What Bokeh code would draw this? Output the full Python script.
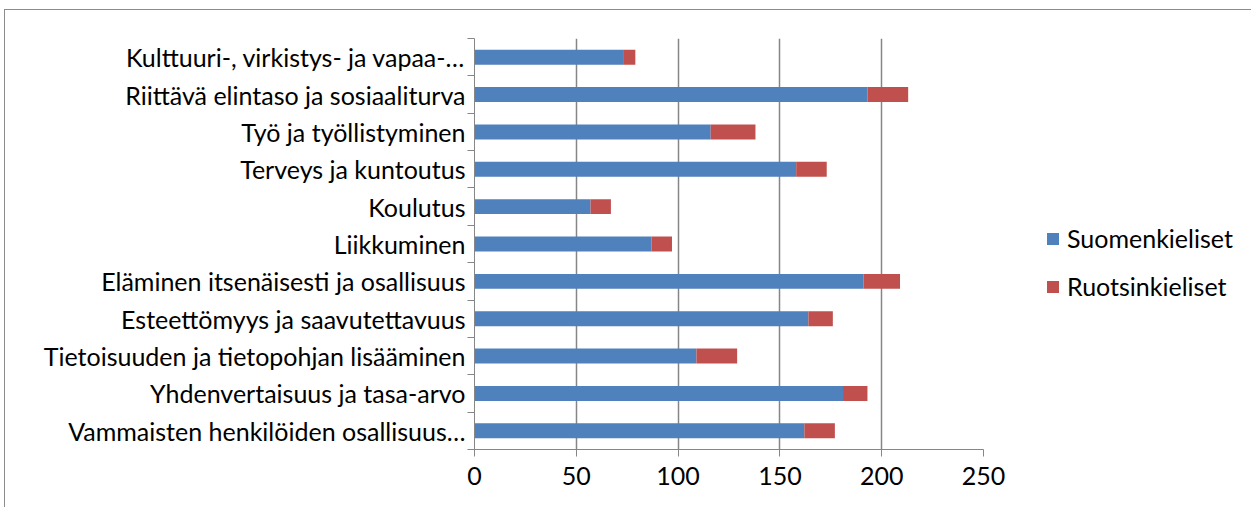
from bokeh.plotting import figure
from bokeh.models import ColumnDataSource, Range1d, FixedTicker
from bokeh.embed import file_html
from bokeh.resources import INLINE

# Categories listed from top to bottom as in the chart
categories = [
    "Kulttuuri-, virkistys- ja vapaa-…",
    "Riittävä elintaso ja sosiaaliturva",
    "Työ ja työllistyminen",
    "Terveys ja kuntoutus",
    "Koulutus",
    "Liikkuminen",
    "Eläminen itsenäisesti ja osallisuus",
    "Esteettömyys ja saavutettavuus",
    "Tietoisuuden ja tietopohjan lisääminen",
    "Yhdenvertaisuus ja tasa-arvo",
    "Vammaisten henkilöiden osallisuus…",
]
suomenkieliset = [73, 193, 116, 158, 57, 87, 191, 164, 109, 181, 162]
ruotsinkieliset = [6, 20, 22, 15, 10, 10, 18, 12, 20, 12, 15]
series_names = ["Suomenkieliset", "Ruotsinkieliset"]
x_ticks = [0, 50, 100, 150, 200, 250]

n = len(categories)
ypos = [n - 1 - i + 0.5 for i in range(n)]
source = ColumnDataSource(dict(y=ypos, fi=suomenkieliset, sv=ruotsinkieliset))

FONT = "Lato"
FS = "25px"
GRAY = "#868686"

p = figure(frame_width=509, frame_height=411, output_backend="svg", toolbar_location=None,
           x_range=Range1d(0, 250), y_range=Range1d(0, n),
           min_border_left=469, min_border_right=0, min_border_top=28,
           min_border_bottom=58)
p.outline_line_color = None
p.styles = {"border-top": "1px solid #8c8c8c", "border-left": "1px solid #8c8c8c",
            "margin-left": "4px", "margin-top": "9px"}

r = p.hbar_stack(["fi", "sv"], y="y", height=0.4, source=source,
                 color=["#4F81BD", "#C0504D"], line_color=None,
                 legend_label=series_names)

# x axis
xa = p.xaxis[0]
xa.ticker = FixedTicker(ticks=x_ticks)
xa.axis_line_color = GRAY
xa.major_tick_line_color = GRAY
xa.major_tick_out = 7
xa.major_tick_in = 0
xa.minor_tick_line_color = None
xa.major_label_text_font = FONT
xa.major_label_text_font_size = FS
xa.major_label_text_color = "#000000"
xa.major_label_standoff = 10

# y axis: labels at category centres, tick marks at boundaries
ya = p.yaxis[0]
ya.ticker = FixedTicker(ticks=ypos, minor_ticks=[float(k) for k in range(n + 1)])
ya.major_label_overrides = {v: c for v, c in zip(ypos, categories)}
ya.axis_line_color = GRAY
ya.major_tick_line_color = None
ya.major_tick_out = 0
ya.major_tick_in = 0
ya.minor_tick_line_color = GRAY
ya.minor_tick_out = 7
ya.minor_tick_in = 0
ya.major_label_text_font = FONT
ya.major_label_text_font_size = FS
ya.major_label_text_color = "#000000"
ya.major_label_standoff = 2

p.xgrid.ticker = FixedTicker(ticks=x_ticks)
p.xgrid.grid_line_color = GRAY
p.xgrid.grid_line_width = 1.5
p.ygrid.visible = False

lg = p.legend[0]
p.center.remove(lg)
p.add_layout(lg, "right")
lg.location = (62, 148)
lg.border_line_color = None
lg.background_fill_alpha = 0
lg.padding = 0
lg.margin = 0
lg.glyph_width = 15
lg.glyph_height = 15
lg.label_standoff = 7
lg.label_height = 24
lg.spacing = 18
lg.label_text_font = FONT
lg.label_text_font_size = "25px"
lg.label_text_color = "#000000"

open("out.html", "w").write(file_html(p, INLINE))
